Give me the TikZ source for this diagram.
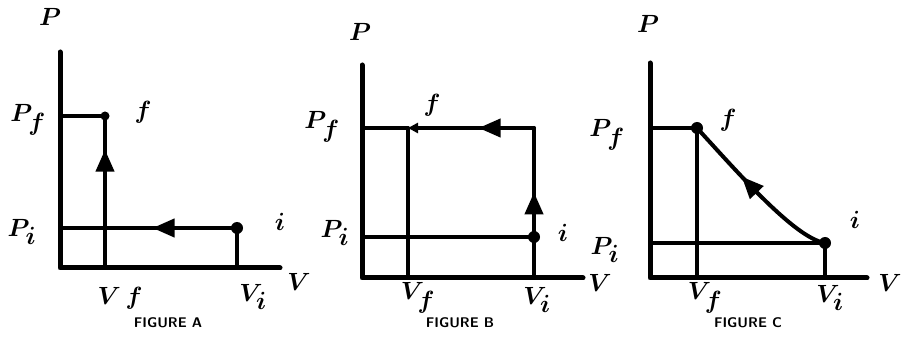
\documentclass[tikz,border=0pt]{standalone}
\usetikzlibrary{arrows.meta,decorations.markings}
\begin{document}
\begin{tikzpicture}[x=1pt,y=-1pt,
  axis/.style={line width=5pt,line cap=round,line join=round},
  guide/.style={line width=3.6pt,line cap=round},
  proc/.style={line width=4pt,line cap=round,line join=round},
  midarrow/.style={postaction={decorate,decoration={markings,
     mark=at position #1 with {\arrow{Triangle[length=22pt,width=18pt]}}}}},
  dot/.style={circle,fill=black,inner sep=0pt,minimum size=#1},
  lab/.style={font=\fontsize{34}{34}\selectfont\boldmath,inner sep=0pt},
  biglab/.style={font=\fontsize{42}{42}\selectfont\boldmath,inner sep=0pt},
  figcap/.style={font=\fontsize{14}{14}\selectfont\bfseries\sffamily,inner sep=0pt}]
\useasboundingbox (0,0) rectangle (902,347);

% ---------------- Panel A ----------------
\coordinate (Atop) at (60,52);
\coordinate (AO) at (60,268);
\coordinate (Aright) at (280,268);
\coordinate (APf) at (60,116);
\coordinate (APi) at (60,228);
\coordinate (AVf) at (105,268);
\coordinate (AVi) at (237,268);
\coordinate (Ac) at (105,228);
\node[dot=9pt] (Af) at (105,116) {};
\node[dot=12pt] (Ai) at (237,228) {};
\draw[axis] (Atop) -- (AO) -- (Aright);
\draw[guide] (APf) -- (Af.center);
\draw[guide] (APi) -- (Ac);
\draw[guide] (AVf) -- (Ac);
\draw[guide] (AVi) -- (Ai.center);
\draw[proc,midarrow=0.64] (Ai.center) -- (Ac);
\draw[proc,midarrow=0.7] (Ac) -- (Af.center);
\node[biglab] (AlP) at (50,17) {$P$};
\node[lab] (AlPf) at (28,120) {$P_f$};
\node[lab] (Alf) at (143,112) {$f$};
\node[lab] (AlPi) at (22,232) {$P_i$};
\node[lab] (Ali) at (280,222) {$i$};
\node[biglab] (AlV) at (299,282) {$V$};
\node[lab] (AlVf) at (120,298) {$V\,f$};
\node[lab] (AlVi) at (253,297) {$V_i$};
\node[figcap] (AlC) at (168,323) {FIGURE A};

% ---------------- Panel B ----------------
\coordinate (Btop) at (362,65);
\coordinate (BO) at (362,278);
\coordinate (Bright) at (583,278);
\coordinate (BPf) at (362,128);
\coordinate (BPi) at (362,237);
\coordinate (BVf) at (408,278);
\coordinate (BVi) at (534,278);
\coordinate (Bc) at (534,128);
\coordinate (Bf) at (408,128);
\node[dot=12pt] (Bi) at (534,237) {};
\draw[axis] (Btop) -- (BO) -- (Bright);
\draw[guide] (BPf) -- (Bf);
\draw[guide] (BPi) -- (Bi.center);
\draw[guide] (BVf) -- (Bf);
\draw[guide] (BVi) -- (Bi.center);
\draw[proc,midarrow=0.41] (Bi.center) -- (Bc);
\draw[proc,midarrow=0.44,-{Triangle[length=10pt,width=10pt]}] (Bc) -- (Bf);
\node[biglab] (BlP) at (360,32) {$P$};
\node[lab] (BlPf) at (322,127) {$P_f$};
\node[lab] (Blf) at (432,105) {$f$};
\node[lab] (BlPi) at (335,233) {$P_i$};
\node[lab] (Bli) at (563,233) {$i$};
\node[biglab] (BlV) at (600,283) {$V$};
\node[lab] (BlVf) at (418,298) {$V_f$};
\node[lab] (BlVi) at (537,300) {$V_i$};
\node[figcap] (BlC) at (460,323) {FIGURE B};

% ---------------- Panel C ----------------
\coordinate (Ctop) at (650,63);
\coordinate (CO) at (650,278);
\coordinate (Cright) at (867,278);
\coordinate (CPf) at (650,128);
\coordinate (CPi) at (650,243);
\coordinate (CVf) at (697,278);
\coordinate (CVi) at (825,278);
\node[dot=12pt] (Cf) at (697,128) {};
\node[dot=12pt] (Ci) at (825,243) {};
\draw[axis] (Ctop) -- (CO) -- (Cright);
\draw[guide] (CPf) -- (Cf.center);
\draw[guide] (CPi) -- (Ci.center);
\draw[guide] (CVf) -- (Cf.center);
\draw[guide] (CVi) -- (Ci.center);
\draw[proc,midarrow=0.62] (Ci.center) .. controls (795,238) and (740,175) .. (Cf.center);
\node[biglab] (ClP) at (648,24) {$P$};
\node[lab] (ClPf) at (607,135) {$P_f$};
\node[lab] (Clf) at (728,120) {$f$};
\node[lab] (ClPi) at (605,250) {$P_i$};
\node[lab] (Cli) at (855,220) {$i$};
\node[biglab] (ClV) at (890,283) {$V$};
\node[lab] (ClVf) at (705,298) {$V_f$};
\node[lab] (ClVi) at (830,298) {$V_i$};
\node[figcap] (ClC) at (748,323) {FIGURE C};
\end{tikzpicture}
\end{document}
